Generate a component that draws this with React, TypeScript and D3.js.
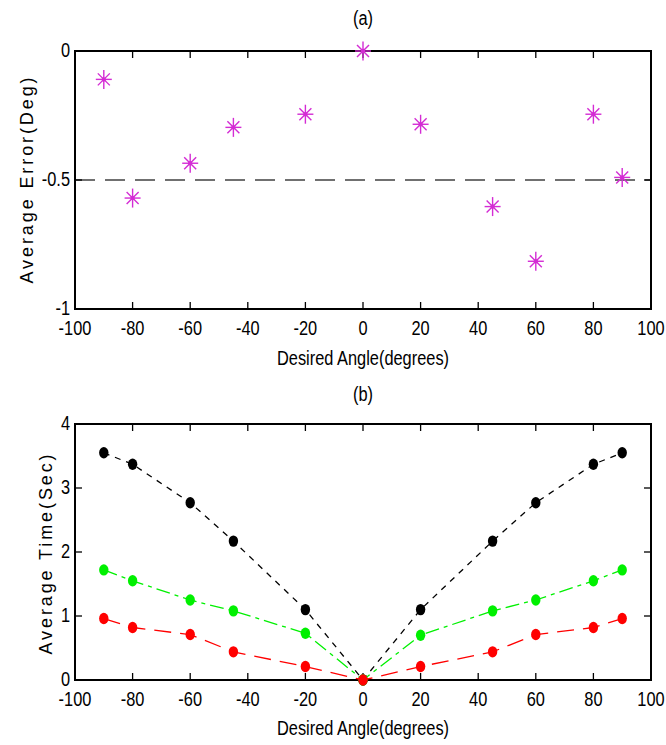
import React from "react";
import * as d3 from "d3";

const anglesA = [-90, -80, -60, -45, -20, 0, 20, 45, 60, 80, 90];
const errorA = [-0.11, -0.57, -0.435, -0.296, -0.245, 0, -0.284, -0.603, -0.815, -0.245, -0.49];
const meanError = -0.5;

const anglesB = [-90, -80, -60, -45, -20, 0, 20, 45, 60, 80, 90];
const timeBlack = [3.55, 3.37, 2.77, 2.17, 1.1, 0, 1.1, 2.17, 2.77, 3.37, 3.55];
const timeGreen = [1.72, 1.55, 1.25, 1.08, 0.73, 0, 0.7, 1.08, 1.25, 1.55, 1.72];
const timeRed = [0.96, 0.82, 0.71, 0.44, 0.21, 0, 0.21, 0.44, 0.71, 0.82, 0.96];

const xTicks = [-100, -80, -60, -40, -20, 0, 20, 40, 60, 80, 100];
const yTicksA = [0, -0.5, -1];
const yTicksB = [0, 1, 2, 3, 4];

const W = 666, H = 745;
const left = 75, right = 651;
const sans = "'Liberation Sans', Arial, sans-serif";

function NText({ x, y, anchor = "middle", size = 21, children }: any) {
  return (
    <text transform={`translate(${x},${y}) scale(0.78,1)`} textAnchor={anchor} fontFamily={sans} fontSize={size}>
      {children}
    </text>
  );
}

function Frame({ x, y, yTicks, fmt }: any) {
  const [y0, y1] = y.range();
  const top = Math.min(y0, y1), bottom = Math.max(y0, y1);
  const tl = 7;
  return (
    <g>
      <rect x={left} y={top} width={right - left} height={bottom - top} fill="none" stroke="#000" strokeWidth={2} />
      {xTicks.map((t: number) => (
        <g key={"x" + t}>
          <line x1={x(t)} x2={x(t)} y1={bottom} y2={bottom - tl} stroke="#000" strokeWidth={1.3} />
          <line x1={x(t)} x2={x(t)} y1={top} y2={top + tl} stroke="#000" strokeWidth={1.3} />
          <NText x={x(t)} y={bottom + 26}>{t}</NText>
        </g>
      ))}
      {yTicks.map((t: number) => (
        <g key={"y" + t}>
          <line x1={left} x2={left + tl} y1={y(t)} y2={y(t)} stroke="#000" strokeWidth={1.3} />
          <line x1={right} x2={right - tl} y1={y(t)} y2={y(t)} stroke="#000" strokeWidth={1.3} />
          <NText x={left - 5} y={y(t) + 6} anchor="end">{fmt(t)}</NText>
        </g>
      ))}
    </g>
  );
}

function Star({ cx, cy }: any) {
  const r = 8, d = 6;
  const c = "#d42cd4";
  return (
    <g stroke={c} strokeWidth={1.4}>
      <line x1={cx} x2={cx} y1={cy - r - 1.5} y2={cy + r + 1.5} />
      <line x1={cx - r} x2={cx + r} y1={cy} y2={cy} />
      <line x1={cx - d} x2={cx + d} y1={cy - d} y2={cy + d} />
      <line x1={cx - d} x2={cx + d} y1={cy + d} y2={cy - d} />
      <circle cx={cx} cy={cy} r={1.5} fill={c} />
    </g>
  );
}

export default function App() {
  const x = d3.scaleLinear().domain([-100, 100]).range([left, right]);
  const yA = d3.scaleLinear().domain([-1, 0]).range([309, 51]);
  const yB = d3.scaleLinear().domain([0, 4]).range([680, 424]);

  const series = [
    { vals: timeBlack, color: "#000000", dash: "6,6" },
    { vals: timeGreen, color: "#00f000", dash: "14,5,4,5" },
    { vals: timeRed, color: "#ff0000", dash: "17,9" },
  ];

  return (
    <svg width={W} height={H} style={{ position: "absolute", left: 0, top: 0 }}>
      <rect width={W} height={H} fill="#fff" />
      {/* (a) */}
      <NText x={363} y={25}>(a)</NText>
      <line x1={x(-100)} x2={x(100)} y1={yA(meanError)} y2={yA(meanError)} stroke="#707070" strokeWidth={2} strokeDasharray="20,10" />
      <Frame x={x} y={yA} yTicks={yTicksA} fmt={(t: number) => String(t)} />
      {anglesA.map((a, i) => (
        <Star key={i} cx={x(a)} cy={yA(errorA[i])} />
      ))}
      <text transform={`translate(33,179) rotate(-90)`} textAnchor="middle" fontFamily={sans} fontSize={18} letterSpacing={2.9}>Average Error(Deg)</text>
      <NText x={363} y={365}>Desired Angle(degrees)</NText>

      {/* (b) */}
      <NText x={363} y={401}>(b)</NText>
      <Frame x={x} y={yB} yTicks={yTicksB} fmt={(t: number) => String(t)} />
      {series.map((s, si) => {
        const line = d3.line<number>().x((_, i) => x(anglesB[i])).y((v) => yB(v));
        return (
          <g key={si}>
            <path d={line(s.vals) || ""} fill="none" stroke={s.color} strokeWidth={1.3} strokeDasharray={s.dash} />
            {s.vals.map((v, i) => (
              <ellipse key={i} cx={x(anglesB[i])} cy={yB(v)} rx={4.7} ry={5.7} fill={s.color} />
            ))}
          </g>
        );
      })}
      <text transform={`translate(52,553) rotate(-90)`} textAnchor="middle" fontFamily={sans} fontSize={18} letterSpacing={2.9}>Average Time(Sec)</text>
      <NText x={363} y={735}>Desired Angle(degrees)</NText>
    </svg>
  );
}
